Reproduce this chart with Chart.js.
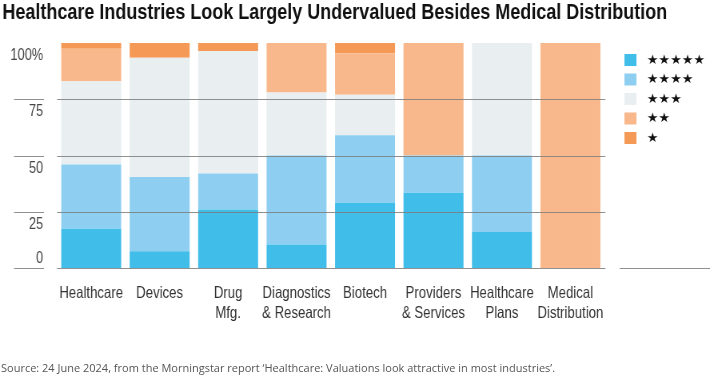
<!DOCTYPE html>
<html>
<head>
<meta charset="utf-8">
<script src="https://cdn.jsdelivr.net/npm/chart.js@4.4.1/dist/chart.umd.min.js"></script>
<style>
  html, body { margin: 0; padding: 0; background: #fff; }
  #wrap { width: 710px; height: 389px; position: relative; overflow: hidden; }
  /* the original artwork uses a condensed face, so the canvas is drawn wider and squeezed */
  #myChart { position: absolute; left: 0; top: 0; transform: scaleX(0.7995); transform-origin: 0 0; }
  #source { position: absolute; left: 1px; top: 361px; font: 11px 'Open Sans', sans-serif; color: #555; line-height: 14px; white-space: nowrap; }
</style>
</head>
<body>
<div id="wrap">
  <canvas id="myChart" width="888" height="389"></canvas>
  <div id="source">Source: 24 June 2024, from the Morningstar report ‘Healthcare: Valuations look attractive in most industries’.</div>
</div>
<script>
// industries along the x axis (multi-line labels)
const categories = [
  "Healthcare", "Devices", ["Drug", "Mfg."], ["Diagnostics", "& Research"],
  "Biotech", ["Providers", "& Services"], ["Healthcare", "Plans"], ["Medical", "Distribution"]
];

// share of companies per star rating, in %
const fiveStar  = [17.5, 7.5, 26, 10.5, 29, 33.5, 16, 0];
const fourStar  = [28.5, 33, 16, 39.5, 30, 16.5, 34, 0];
const threeStar = [37, 53, 54.5, 28, 18, 0, 50, 0];
const twoStar   = [14.5, 0, 0, 22, 18.5, 50, 0, 100];
const oneStar   = [2.5, 6.5, 3.5, 0, 4.5, 0, 0, 0];

const seriesNames = ["★★★★★", "★★★★", "★★★", "★★", "★"];
const seriesColors = ["#40bde9", "#8ecff1", "#e9eef0", "#f9b88b", "#f49956"];

const yTickValues = [0, 25, 50, 75, 100];
const yTickLabels = ["0", "25", "50", "75", "100%"];

const SQUEEZE = 0.7995;
const sans = "'Liberation Sans', Arial, sans-serif";

// y labels, short ticks on the left, grid lines on top of the bars, and the legend
const overlay = {
  id: "overlay",
  afterDatasetsDraw(chart) {
    const ctx = chart.ctx;
    const y = chart.scales.y;
    const area = chart.chartArea;
    ctx.save();
    ctx.strokeStyle = "rgba(125,125,125,0.85)";
    ctx.lineWidth = 1.2;
    yTickValues.forEach((v, i) => {
      const py = Math.round(y.getPixelForValue(v)) + 0.5;
      if (v < 100) {
        ctx.beginPath();
        ctx.moveTo(17.5, py); ctx.lineTo(55, py);
        ctx.moveTo(area.left, py); ctx.lineTo(area.right + 1, py);
        ctx.stroke();
      }
      ctx.fillStyle = "#444";
      ctx.font = "16px " + sans;
      ctx.textAlign = "right";
      ctx.textBaseline = "middle";
      ctx.fillText(yTickLabels[i], 54, Math.min(py + 12, area.bottom - 9));
    });
    // baseline under the legend
    const by = Math.round(y.getPixelForValue(0)) + 0.5;
    ctx.beginPath();
    ctx.moveTo(775, by); ctx.lineTo(888, by);
    ctx.stroke();

    // legend (stars are drawn un-squeezed)
    chart.data.datasets.forEach((ds, i) => {
      const top = 54 + i * 19.5;
      ctx.fillStyle = ds.backgroundColor;
      ctx.fillRect(781, top, 15, 12);
      ctx.save();
      ctx.translate(809, top + 6.5);
      ctx.scale(1 / SQUEEZE, 1);
      ctx.fillStyle = "#111";
      ctx.font = "13px 'DejaVu Sans', sans-serif";
      ctx.textAlign = "left";
      ctx.textBaseline = "middle";
      ctx.fillText(ds.label, 0, 0);
      ctx.restore();
    });
    ctx.restore();
  }
};

const values = [fiveStar, fourStar, threeStar, twoStar, oneStar];

new Chart(document.getElementById("myChart"), {
  type: "bar",
  data: {
    labels: categories,
    datasets: values.map((d, i) => ({
      label: seriesNames[i],
      data: d,
      backgroundColor: seriesColors[i],
      borderWidth: 0,
      barPercentage: 0.876,
      categoryPercentage: 1
    }))
  },
  options: {
    responsive: false,
    animation: false,
    layout: { padding: { left: 3, right: 0, top: 0, bottom: 0 } },
    plugins: {
      legend: { display: false },
      tooltip: { enabled: false },
      title: {
        display: true,
        text: "Healthcare Industries Look Largely Undervalued Besides Medical Distribution",
        align: "start",
        color: "#111",
        font: { family: sans, size: 22.5, weight: "bold", lineHeight: 1.1 },
        padding: { top: 0, bottom: 18.25 }
      }
    },
    scales: {
      x: {
        stacked: true,
        grid: { display: false, drawTicks: false },
        border: { display: false },
        ticks: {
          color: "#333",
          font: { family: sans, size: 16.5, lineHeight: 1.2 },
          padding: 16,
          maxRotation: 0,
          autoSkip: false
        },
        afterFit(scale) { scale.height = 121; }
      },
      y: {
        stacked: true,
        min: 0,
        max: 100,
        grid: { display: false, drawTicks: false },
        border: { display: false },
        ticks: { display: false },
        afterFit(scale) { scale.width = 68.25; }
      },
      // empty right-hand axis that keeps room for the legend
      legendRoom: {
        position: "right",
        grid: { display: false, drawTicks: false },
        border: { display: false },
        ticks: { display: false },
        afterFit(scale) { scale.width = 131.75; }
      }
    }
  },
  plugins: [overlay]
});
</script>
</body>
</html>
